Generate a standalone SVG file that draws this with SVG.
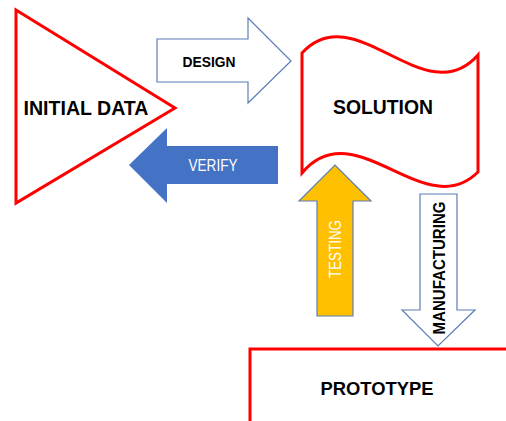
<svg xmlns="http://www.w3.org/2000/svg" width="506" height="421" viewBox="0 0 506 421">
<style>
.red{fill:#fff;stroke:#ff0000;stroke-width:3}
.ol{stroke:#5b7db8;stroke-width:1.2}
.b{font-family:"Liberation Sans",Arial,sans-serif;font-weight:bold;fill:#000;text-anchor:middle;dominant-baseline:central}
.n{font-family:"Liberation Sans",Arial,sans-serif;fill:#fff;text-anchor:middle;dominant-baseline:central}
</style>
<rect width="506" height="421" fill="#fff"/>
<g id="initial-data">
<polygon class="red" points="16,10 175,108 16,203"/>
<text class="b" x="86" y="108" font-size="20" textLength="125" lengthAdjust="spacingAndGlyphs">INITIAL DATA</text>
</g>
<g id="solution">
<path class="red" d="M302,53 C355,-5 425,115 478,55 L478,172 C425,225 355,110 302,173 Z"/>
<text class="b" x="383" y="107" font-size="20" textLength="100" lengthAdjust="spacingAndGlyphs">SOLUTION</text>
</g>
<g id="prototype">
<rect class="red" x="250" y="349" width="270" height="90"/>
<text class="b" x="377" y="388" font-size="19" textLength="113" lengthAdjust="spacingAndGlyphs">PROTOTYPE</text>
</g>
<g id="connectors">
<g id="design">
<polygon class="ol" fill="#fff" points="157,39 248,39 248,18 291,61 248,103 248,82 157,82"/>
<text class="b" x="209" y="61" font-size="15" textLength="53" lengthAdjust="spacingAndGlyphs">DESIGN</text>
</g>
<g id="verify">
<polygon fill="#4472c4" points="278,146 167,146 167,128 129,165 167,203 167,184 278,184"/>
<text class="n" x="213" y="165" font-size="16" textLength="49" lengthAdjust="spacingAndGlyphs">VERIFY</text>
</g>
<g id="testing">
<polygon class="ol" fill="#ffc000" points="317,316 317,201 299,201 335,165 371,201 353,201 353,316"/>
<text class="n" transform="translate(335,249) rotate(-90)" font-size="16" textLength="58" lengthAdjust="spacingAndGlyphs">TESTING</text>
</g>
<g id="manufacturing">
<polygon class="ol" fill="#fff" points="420,194 457,194 457,310 475,310 438,346 402,310 420,310"/>
<text class="b" transform="translate(439,268) rotate(-90)" font-size="16" textLength="133" lengthAdjust="spacingAndGlyphs">MANUFACTURING</text>
</g>
</g>
</svg>
